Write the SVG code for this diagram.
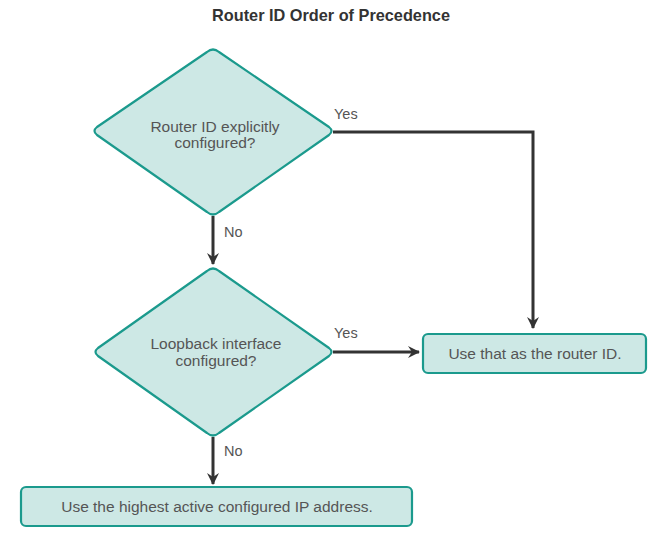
<svg xmlns="http://www.w3.org/2000/svg" width="653" height="545" viewBox="0 0 653 545">
<style>
.shape{fill:#cde8e5;stroke:#1b9a8d;stroke-width:2.2;stroke-linejoin:round}
.t{font-family:"Liberation Sans",Arial,sans-serif;font-size:15.5px;fill:#555;text-anchor:middle}
.lbl{font-family:"Liberation Sans",Arial,sans-serif;font-size:14.5px;fill:#555}
.c{fill:none;stroke:#333;stroke-width:3}
</style>
<defs>
<marker id="ah" viewBox="0 0 12 12" refX="11" refY="6" markerWidth="12" markerHeight="12" markerUnits="userSpaceOnUse" orient="auto">
<path d="M0,0 L12,6 L0,12 L4,6 Z" fill="#333"/>
</marker>
</defs>
<rect width="653" height="545" fill="#fff"/>
<text x="331" y="21" font-family="'Liberation Sans',Arial,sans-serif" font-size="16.3" font-weight="bold" fill="#333" text-anchor="middle">Router ID Order of Precedence</text>
<g id="connectors">
<path class="c" d="M333,132 H533 V328" marker-end="url(#ah)"/>
<path class="c" d="M213,216 V264" marker-end="url(#ah)"/>
<path class="c" d="M333,352 H419" marker-end="url(#ah)"/>
<path class="c" d="M213,437 V484" marker-end="url(#ah)"/>
<text class="lbl" x="334" y="119">Yes</text>
<text class="lbl" x="224" y="237">No</text>
<text class="lbl" x="334" y="338">Yes</text>
<text class="lbl" x="224" y="456">No</text>
</g>
<g id="d1">
<path class="shape" d="M207,52 Q213,47 219,52 L329,127 Q334,131 329,135 L219,212 Q213,217 207,212 L97,135 Q92,131 97,127 Z"/>
<text class="t" x="215" y="132">Router ID explicitly</text>
<text class="t" x="215" y="148">configured?</text>
</g>
<g id="d2">
<path class="shape" d="M207,271 Q213,266 219,271 L329,348 Q334,352 329,356 L219,433 Q213,438 207,433 L98,356 Q93,352 98,348 Z"/>
<text class="t" x="216" y="349">Loopback interface</text>
<text class="t" x="216" y="366">configured?</text>
</g>
<g id="b1">
<rect class="shape" x="423" y="334" width="223" height="39" rx="5"/>
<text class="t" x="535" y="359">Use that as the router ID.</text>
</g>
<g id="b2">
<rect class="shape" x="21" y="487" width="391" height="39" rx="5"/>
<text class="t" x="217" y="512">Use the highest active configured IP address.</text>
</g>
</svg>
